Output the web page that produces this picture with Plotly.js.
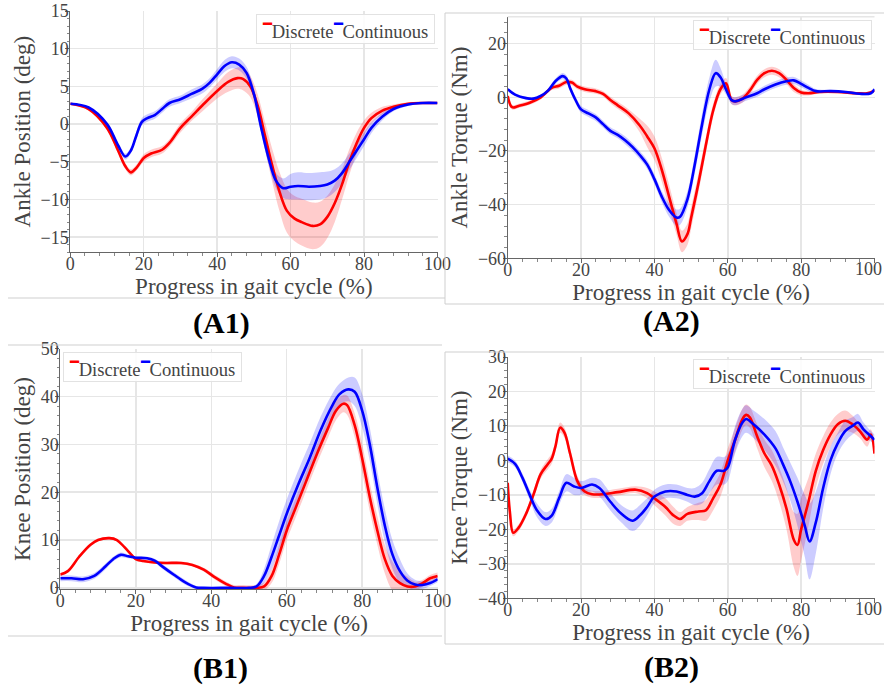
<!DOCTYPE html>
<html>
<head>
<meta charset="utf-8">
<script src="https://cdn.plot.ly/plotly-3.0.1.min.js"></script>
<style>html,body{margin:0;padding:0;background:#fff;}#chart{width:884px;height:685px;}</style>
</head>
<body>
<div id="chart"></div>
<script>
// ---------- A1: Ankle Position (deg) ----------
const a1DiscX = [0,5,10,13,15,16.5,18,20,22,25,27,30,33,36,40,43,45.5,47,49,51,53,55,57,59,61,63,66,68,70,72,74,76,78,80,82,85,88,92,96,100];
const a1DiscY = [2.7,2.0,-0.5,-3.5,-5.6,-6.4,-5.8,-4.5,-3.9,-3.4,-2.5,-0.5,1.0,2.5,4.4,5.6,6.1,6.0,5.0,2.5,-1.5,-5.5,-9.0,-11.5,-12.5,-13.0,-13.5,-13.3,-12.3,-10.5,-8.0,-5.0,-2.5,-0.5,0.8,1.8,2.3,2.7,2.8,2.8];
const a1DiscSd = [0.1,0.2,0.3,0.4,0.4,0.4,0.4,0.5,0.5,0.5,0.5,0.6,0.6,0.8,1.0,1.3,1.4,1.5,1.4,1.5,1.8,2.2,2.6,2.9,3.0,3.1,3.1,3.0,2.8,2.5,2.0,1.7,1.4,1.0,0.7,0.5,0.3,0.2,0.1,0.1];
const a1ContX = [0,5,10,13,15,16.5,18,19.5,21,23,25,27,30,33,36,38,40,42,44,46,48,50,52,54,56,58,60,62,65,68,70,72,74,76,78,80,82,85,88,92,96,100];
const a1ContY = [2.7,2.2,0,-2.8,-4.3,-3.5,-1.5,0.3,0.8,1.2,2.0,2.8,3.3,4.0,4.7,5.5,6.6,7.7,8.2,7.9,6.8,4.0,-0.5,-4.5,-7.5,-8.5,-8.3,-8.2,-8.3,-8.2,-8.0,-7.5,-6.5,-5.0,-3.5,-2.0,-0.5,1.0,2.0,2.6,2.8,2.8];
const a1ContSd = [0.1,0.1,0.2,0.3,0.4,0.4,0.5,0.5,0.5,0.5,0.5,0.5,0.5,0.6,0.6,0.6,0.7,0.8,0.8,0.8,0.8,0.8,0.8,0.9,1.0,1.3,1.7,1.8,1.8,1.8,1.7,1.5,1.3,1.1,1.0,0.9,0.7,0.5,0.3,0.2,0.1,0.1];

// ---------- A2: Ankle Torque (Nm) ----------
const a2DiscX = [0,1.2,3,6,9,12,14,16,17.5,19,21,24,26,28,30,33,36,38,40,42,44,46,47.5,49,50,52,54,56,58,59.5,61,62,64,66,68,70,72,74,76,78,80,82,85,90,95,98,100];
const a2DiscY = [0.5,-3.7,-3.2,-2.0,0,3.5,4.3,5.7,5.5,4.0,3.0,2.3,1.3,-1.0,-3.0,-6.0,-10.5,-14.5,-19.0,-27,-37,-47,-53.7,-51,-45,-32,-18,-5,3,5.2,-1.0,-1.5,-0.5,2.5,6.5,9.0,9.9,9.0,6.5,3.5,1.8,1.5,2.0,2.0,1.5,1.5,2.5];
const a2DiscSd = [0.5,0.8,0.8,0.8,0.8,0.8,1.0,1.0,1.0,1.0,1.0,1.0,1.0,1.2,1.3,1.5,2.5,4.0,4.5,4.5,4.5,4.0,4.0,4.0,4.0,3.5,3.0,2.5,2.0,2.0,1.5,1.5,1.5,1.5,1.5,1.5,1.5,1.5,1.5,1.5,1.0,0.8,0.6,0.5,0.5,0.5,0.5];
const a2ContX = [0,2,5,7,9,11,13,15,16,17,18.5,20,22,24,26,28,30,32,34,36,38,40,42,44,46,47,49,51,53,55,56.7,58,59.5,61,62,65,68,70,73,76,78,80,82,84,88,92,96,99,100];
const a2ContY = [3.0,1.0,-0.3,-0.5,0.5,2.5,6.0,7.9,7.0,3.5,-1.0,-4.5,-6.0,-7.5,-10.0,-12.5,-14.0,-16.0,-18.5,-21.5,-25.0,-30.5,-37,-42,-44.8,-44.5,-38,-25,-10,3,9.0,7.5,3,-1.0,-1.5,0,1.5,3.0,4.8,6.0,6.3,5.0,3.5,2.3,2.3,2.0,1.3,1.5,3.0];
const a2ContSd = [0.5,0.5,0.5,0.5,0.6,0.8,1.0,1.2,1.2,1.2,1.2,1.3,1.3,1.3,1.3,1.3,1.3,1.5,1.5,1.5,1.6,1.8,2.0,2.5,3.0,3.0,3.0,3.5,4.0,4.5,5.0,3.5,2.0,1.5,1.5,1.3,1.3,1.3,1.3,1.3,1.3,1.3,1.2,0.8,0.5,0.5,0.5,0.5,0.5];

// ---------- B1: Knee Position (deg) ----------
const b1DiscX = [0,2,5,8,10,13,15,17,19,20,22,25,28,32,35,38,41,44,46,48,52,54,56,58,60,62,65,68,71,73,75,76,78,80,82,84,86,88,90,92,94,96,98,100];
const b1DiscY = [2.8,3.5,6.5,9.0,10.0,10.4,10.0,8.5,6.8,6.0,5.6,5.3,5.2,5.2,4.8,3.8,2.2,0.8,0.1,0,0,0.3,2.5,7,12,16,22,28,33.5,37,38.5,38.2,34,27,19,12,6,2.5,1,0.3,0.3,1.0,2.0,2.5];
const b1DiscSd = [0.3,0.3,0.3,0.3,0.3,0.3,0.3,0.3,0.3,0.3,0.3,0.3,0.3,0.3,0.3,0.4,0.5,0.5,0.5,0.6,0.6,0.8,1.5,2.0,2.0,2.0,2.0,2.0,2.0,2.0,1.8,2.0,2.5,3.0,3.0,3.0,3.0,3.0,2.5,2.0,1.0,0.7,0.7,0.7];
const b1ContX = [0,3,6,9,12,14,16,18,20,23,25,27,30,33,36,38,45,50,52,54,56,58,60,63,66,69,72,74,76.3,78,80,82,84,86,88,90,92,94,96,98,100];
const b1ContY = [2.0,2.0,1.8,2.5,4.5,6.0,6.9,6.6,6.3,6.2,5.7,4.5,2.8,1.2,0.1,0,0,0,0.3,2.5,6.5,11,15.5,21.5,27,33,38,40.5,41.5,41,37,30,21,13,7,3.5,1.5,0.7,0.6,1.0,1.8];
const b1ContSd = [0.6,0.6,0.6,0.6,0.6,0.5,0.5,0.4,0.3,0.3,0.4,0.5,0.5,0.5,0.3,0.2,0.2,0.2,0.5,1.5,2.5,3,3,3,3,2.8,2.5,2.2,2.5,3.0,3.5,3.5,3.5,3.5,3.0,2.5,1.5,1.0,0.8,0.6,0.6];

// ---------- B2: Knee Torque (Nm) ----------
const b2DiscX = [0,0.6,1.5,3,5,7,9,11,12,13,14.3,15.5,17,19,21,23,26,30,35,38,40,43,45,47,49,52,54,56,58,60,62,64,65,66,68,70,72,74,76,78,79,80,82,84,86,88,90,92,94,96,98,99,100];
const b2DiscY = [-6.5,-15,-21,-19.5,-15.5,-10,-4,-1,0.5,4,9.5,8,2,-6,-9,-9.8,-9.8,-9.2,-8.5,-9.5,-11,-13.5,-15.8,-17,-15.5,-14.8,-14.5,-11,-7,0,6,12,13.2,12.5,7,2,-1.5,-7,-14,-23,-24.5,-20,-12,-3,3,7.5,10.5,11.5,10.5,8.5,6,7.5,2];
const b2DiscSd = [1,1,1,1,1,1.2,1.3,1.5,1.5,1.5,1.5,1.5,1.5,1.5,1.0,1.0,1.0,1.0,1.0,1.5,2.0,2.5,2.5,2.0,2.0,2.5,3.0,3.5,3.5,3.5,3.5,3.0,3.0,3.0,3.5,4,4.5,5,6,8,9,9,7,5,4,3.5,3,3,2.5,2,2,1.5,1.5];
const b2ContX = [0,2,4,6,8,10.3,12,14,16,18,20,23,25,28,31,34,36,38,40,43,46,49,51,53,55,57,59,60,62,64,65,67,70,73,75,77,79,81,82.3,84,86,88,90,92,94,95.5,97,99,100];
const b2ContY = [0.5,-1.0,-5,-10,-14.5,-17,-16,-11,-6.5,-7.5,-8,-7,-8,-12,-15.5,-17.5,-16,-13.5,-10.5,-9,-9,-10,-10.5,-9.5,-6,-3,-3,-2,6,11,12,10.5,7.5,3.5,-1,-6,-12,-19,-23.5,-18,-8,0,5,8.5,10,11,9,7,6];
const b2ContSd = [1,1,1.2,1.5,2,2,2,2,2.5,2.5,2,2,2.5,2.5,2.5,3,3,2.5,2,2,2,2,2.5,3,3.5,4,4,4,4,4,4,4,4.5,5,5,5.5,7,9,11,9,6,4,3,3,2.5,2.5,2,1.5,1.5];

const seriesNames = ['Discrete', 'Continuous'];
const panelLabels = ['(A1)', '(A2)', '(B1)', '(B2)'];
const yTitles = ['Ankle Position (deg)', 'Ankle Torque (Nm)', 'Knee Position (deg)', 'Knee Torque (Nm)'];
const xTitle = 'Progress in gait cycle (%)';
const xTickVals = [0, 20, 40, 60, 80, 100];
const xTickText = ['0', '20', '40', '60', '80', '100'];

// ---------- build ----------
const RED = '#ff0000', BLUE = '#0000ff';
const RED_BAND = 'rgba(255,0,0,0.2)', BLUE_BAND = 'rgba(0,0,255,0.2)';
const panels = [
  {ax: '', d: [a1DiscX, a1DiscY, a1DiscSd], c: [a1ContX, a1ContY, a1ContSd]},
  {ax: '2', d: [a2DiscX, a2DiscY, a2DiscSd], c: [a2ContX, a2ContY, a2ContSd]},
  {ax: '3', d: [b1DiscX, b1DiscY, b1DiscSd], c: [b1ContX, b1ContY, b1ContSd]},
  {ax: '4', d: [b2DiscX, b2DiscY, b2DiscSd], c: [b2ContX, b2ContY, b2ContSd]}
];
const traces = [];
function band(p, s, color) {
  const xa = 'x' + p.ax, ya = 'y' + p.ax;
  const lo = s[1].map((v, i) => v - s[2][i]);
  const hi = s[1].map((v, i) => v + s[2][i]);
  traces.push({x: s[0], y: lo, xaxis: xa, yaxis: ya, mode: 'lines', line: {width: 0, shape: 'spline', smoothing: 1}, showlegend: false, hoverinfo: 'skip'});
  traces.push({x: s[0], y: hi, xaxis: xa, yaxis: ya, mode: 'lines', fill: 'tonexty', fillcolor: color, line: {width: 0, shape: 'spline', smoothing: 1}, showlegend: false, hoverinfo: 'skip'});
}
function mean(p, s, name, color) {
  traces.push({x: s[0], y: s[1], xaxis: 'x' + p.ax, yaxis: 'y' + p.ax, name: name, mode: 'lines', line: {color: color, width: 2.6, shape: 'spline', smoothing: 1}, showlegend: false});
}
panels.forEach(p => {
  band(p, p.d, RED_BAND);
  band(p, p.c, BLUE_BAND);
  mean(p, p.d, seriesNames[0], RED);
  mean(p, p.c, seriesNames[1], BLUE);
});

const FONT = 'Liberation Serif';
const W = 884, H = 685;
function px(x) { return x / W; }
function py(y) { return 1 - y / H; }

function xax(dom, lastLabel) {
  const tt = xTickText.slice();
  if (!lastLabel) tt[tt.length - 1] = '';
  return {
    domain: dom, range: [0, 100], tickmode: 'array', tickvals: xTickVals, ticktext: tt,
    showgrid: true, gridcolor: '#e6e6e6', gridwidth: 1.5,
    zeroline: false, showline: true, linecolor: '#666', linewidth: 1,
    ticks: 'outside', ticklen: 4, tickcolor: '#666', ticklabeloverflow: 'allow', ticklabelstandoff: -9,
    minor: {dtick: 4, ticks: 'outside', ticklen: 2.5, tickcolor: '#888', showgrid: false},
    tickfont: {family: FONT, size: 18, color: '#444'},
    title: {text: xTitle, font: {family: FONT, size: 23, color: '#444'}, standoff: 1},
    automargin: false, fixedrange: true
  };
}
function yax(dom, range, dtick, minor, title, anchor) {
  return {
    domain: dom, range: range, dtick: dtick, showgrid: true, gridcolor: '#e6e6e6', gridwidth: 1.5,
    zeroline: false, showline: true, linecolor: '#666', linewidth: 1,
    ticks: 'outside', ticklen: 4, tickcolor: '#666', ticklabeloverflow: 'allow', ticklabelstandoff: -7,
    minor: {dtick: minor, ticks: 'outside', ticklen: 2.5, tickcolor: '#888', showgrid: false},
    tickfont: {family: FONT, size: 18, color: '#444'},
    title: {text: title, font: {family: FONT, size: 23, color: '#444'}, standoff: 3},
    anchor: anchor, automargin: false, fixedrange: true
  };
}

const dash = c => '<span style="color:' + c + ';font-size:21px"><sup>━</sup></span>';
const legendText = '\u00a0' + dash(RED) + seriesNames[0] + dash(BLUE) + seriesNames[1] + '\u00a0';
function legendAnn(xe, yt, anchor) {
  return {text: legendText, xref: 'paper', yref: 'paper', x: px(xe), y: py(yt), xanchor: anchor, yanchor: 'top',
          showarrow: false, bgcolor: 'rgba(255,255,255,0.85)', bordercolor: '#e2e2e2', borderwidth: 1, borderpad: 1,
          font: {family: FONT, size: 18.6, color: '#444'}};
}
function labelAnn(t, xc, yc) {
  return {text: '<b>' + t + '</b>', xref: 'paper', yref: 'paper', x: px(xc), y: py(yc), xanchor: 'center', yanchor: 'middle',
          showarrow: false, font: {family: FONT, size: 30, color: '#000'}};
}
function lastTick(ax, yshift) {
  return {text: xTickText[xTickText.length - 1], xref: 'x' + ax, yref: 'y' + ax + ' domain', x: 100, y: 0,
          xanchor: 'center', yanchor: 'middle', xshift: -6.5, yshift: yshift, showarrow: false,
          font: {family: FONT, size: 18, color: '#444'}};
}
function ln(x0, y0, x1, y1) {
  return {type: 'line', xref: 'paper', yref: 'paper', x0: px(x0), y0: py(y0), x1: px(x1), y1: py(y1), line: {color: '#cfcfcf', width: 1}};
}

const layout = {
  width: W, height: H, margin: {l: 0, r: 0, t: 0, b: 0},
  font: {family: FONT},
  paper_bgcolor: '#fff', plot_bgcolor: '#fff', showlegend: false,
  xaxis: xax([px(70.3), px(437.5)], true),
  yaxis: yax([py(252.3), py(11)], [-17, 15], 5, 1, yTitles[0], 'x'),
  xaxis2: Object.assign(xax([px(507.7), px(874.5)], false), {anchor: 'y2'}),
  yaxis2: yax([py(258.3), py(16.8)], [-60, 30], 20, 4, yTitles[1], 'x2'),
  xaxis3: Object.assign(xax([px(60.3), px(437.7)], true), {anchor: 'y3'}),
  yaxis3: yax([py(589.3), py(348.7)], [-0.3, 50], 10, 2, yTitles[2], 'x3'),
  xaxis4: Object.assign(xax([px(507.7), px(874.5)], false), {anchor: 'y4'}),
  yaxis4: yax([py(598.3), py(357)], [-40, 30], 10, 2, yTitles[3], 'x4'),
  annotations: [
    legendAnn(435, 14, 'right'), legendAnn(872, 20, 'right'), legendAnn(63, 352, 'left'), legendAnn(872, 359, 'right'),
    labelAnn(panelLabels[0], 221, 323), labelAnn(panelLabels[1], 671, 321),
    labelAnn(panelLabels[2], 220, 668), labelAnn(panelLabels[3], 671, 667),
    lastTick('2', -11), lastTick('4', -10.7)
  ],
  shapes: [
    ln(8, 298, 445, 298),
    ln(445, 13, 884, 13), ln(445, 13, 445, 304), ln(445, 304, 884, 304),
    ln(8, 345, 442, 345), ln(8, 636, 442, 636),
    ln(445, 352, 884, 352), ln(445, 352, 445, 644), ln(445, 644, 884, 644),
    {type: 'line', xref: 'x2 domain', yref: 'y2 domain', x0: 0, x1: 1, y0: 1, y1: 1, line: {color: '#e6e6e6', width: 1.5}}
  ]
};

Plotly.newPlot('chart', traces, layout, {displayModeBar: false, staticPlot: true});
</script>
</body>
</html>
